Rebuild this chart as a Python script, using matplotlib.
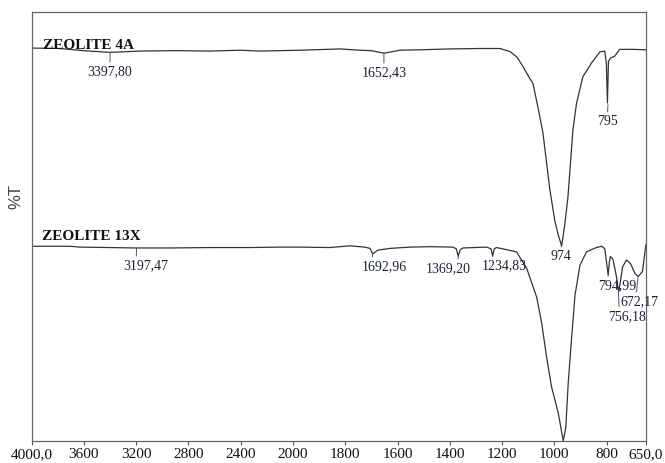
import numpy as np
import matplotlib.pyplot as plt

# FTIR spectra, wavenumber (cm-1) vs relative %T (arbitrary offset)
wn_4a = [4000, 3783, 3607, 3400, 3171, 2903, 2636, 2406, 2253, 2100, 1973,
         1820, 1744, 1700, 1652, 1591, 1514, 1400, 1285, 1208, 1170, 1143,
         1120, 1094, 1082, 1063, 1044, 1017, 998, 985, 972, 960, 948, 929,
         915, 891, 858, 826, 807, 801, 797, 793, 785, 769, 750, 700, 650]
t_4a = [91.6, 91.5, 91.0, 90.6, 90.9, 91.0, 90.9, 91.1, 90.9, 91.0, 91.1,
        91.4, 91.1, 91.0, 90.4, 91.1, 91.2, 91.4, 91.5, 91.5, 90.8, 89.5,
        87.3, 84.5, 83.4, 77.9, 72.0, 58.5, 51.3, 48.0, 45.5, 50.5, 56.9,
        72.5, 78.8, 84.9, 88.1, 90.7, 90.9, 88.0, 78.8, 88.5, 89.3, 89.7,
        91.3, 91.3, 91.2]

wn_13x = [4000, 3707, 3630, 3400, 3198, 2941, 2635, 2329, 2100, 1973, 1859,
          1782, 1725, 1705, 1695, 1675, 1629, 1553, 1476, 1388, 1375, 1368,
          1360, 1350, 1259, 1242, 1236, 1230, 1221, 1145, 1106, 1068, 1049,
          1030, 1011, 985, 966, 956, 947, 934, 921, 902, 877, 839, 819, 807,
          799, 794, 790, 786, 776, 762, 756, 753, 749, 739, 724, 709, 692,
          680, 663, 650]
t_13x = [45.4, 45.4, 45.2, 45.1, 45.0, 45.0, 45.1, 45.1, 45.2, 45.2, 45.1,
         45.5, 45.2, 44.9, 43.6, 44.5, 44.9, 45.2, 45.3, 45.2, 44.8, 43.1,
         44.6, 45.0, 45.2, 44.8, 43.1, 44.8, 45.1, 44.1, 40.3, 33.6, 27.7,
         19.7, 12.7, 6.5, 0.0, 3.3, 13.5, 24.0, 34.0, 41.0, 44.1, 45.1, 45.4,
         44.8, 41.0, 38.7, 41.5, 43.0, 42.4, 38.2, 35.5, 35.0, 36.5, 40.6,
         42.2, 41.4, 39.1, 38.3, 39.5, 45.7]

# peak labels: text, peak position, label position, where the leader meets the label
labels = ["3397,80", "1652,43", "795", "974",
          "3197,47", "1692,96", "1369,20", "1234,83", "794,99", "672,17", "756,18"]
peaks = [(3398, 90.6), (1652, 90.4), (795, 78.4), (974, 45.5),
         (3197, 45.0), (1695, 43.6), (1368, 43.1), (1236, 43.1), (794, 38.7), (680, 38.0), (755, 35.0)]
label_pos = [(3400, 86.0), (1652, 85.8), (797, 74.4), (973, 42.9),
             (3126, 40.8), (1652, 40.6), (1407, 40.1), (1193, 40.8), (761, 36.1), (673, 32.4), (723, 29.0)]
leader_rel = [0.5, 0.5, 0.5, 0.5, 0.29, 0.24, 0.73, 0.25, 0.26, 0.4, 0.3]

xticks = [4000, 3600, 3200, 2800, 2400, 2000, 1800, 1600, 1400, 1200, 1000, 800, 650]
xticklabels = ["4000,0", "3600", "3200", "2800", "2400", "2000", "1800", "1600",
               "1400", "1200", "1000", "800", "650,0"]


# spectrometer-style axis: 4000-2000 compressed by 2
def fwd(x):
    x = np.asarray(x, dtype=float)
    return np.where(x > 2000, 2000 + (x - 2000) / 2.0, x)


def inv(y):
    y = np.asarray(y, dtype=float)
    return np.where(y > 2000, 2000 + 2.0 * (y - 2000), y)


serif = ["Liberation Serif", "DejaVu Serif"]
txtcol = "#1c2236"
linecol = "#333333"

fig = plt.figure(figsize=(6.65, 4.63), dpi=100)
ax = fig.add_axes([0.0474, 0.0475, 0.9238, 0.9265])
ax.set_xscale("function", functions=(fwd, inv))

ax.plot(wn_4a, t_4a, color=linecol, lw=0.9)
ax.plot(wn_13x, t_13x, color=linecol, lw=0.9)

ax.set_xlim(4000, 650)
ax.set_ylim(0, 100)

for lab, p, t, r in zip(labels, peaks, label_pos, leader_rel):
    ax.annotate(lab, xy=p, xytext=t, ha="center", va="center",
                fontsize=10, family=serif, color=txtcol,
                arrowprops=dict(arrowstyle="-", color="#555555", lw=0.7,
                                shrinkA=0.5, shrinkB=0, relpos=(r, 1.0)))

ax.text(3911, 92.3, "ZEOLITE 4A", family=serif, fontweight="bold",
        fontsize=11, color="#111111", ha="left", va="center")
ax.text(3921, 47.6, "ZEOLITE 13X", family=serif, fontweight="bold",
        fontsize=11, color="#111111", ha="left", va="center")

ax.set_xticks(xticks)
ax.set_xticklabels(xticklabels, family=serif, fontsize=11, color="#111111")
ax.minorticks_off()
ax.tick_params(axis="x", direction="out", length=3, width=0.8, pad=2, colors="#555555",
               labelcolor="#111111")
ax.set_yticks([])
ax.set_ylabel("%T", family=["Liberation Sans", "DejaVu Sans"], fontsize=12,
              color="#444444")
ax.yaxis.set_label_coords(-0.013, 0.57)

for s in ax.spines.values():
    s.set_color("#666666")
    s.set_linewidth(0.9)

fig.savefig("out.png", dpi=100)
